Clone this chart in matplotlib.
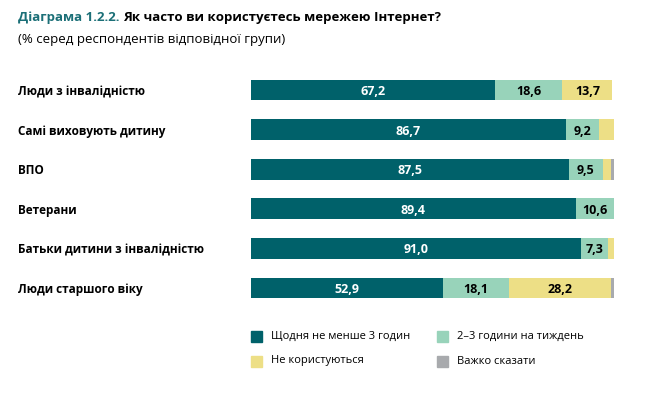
import numpy as np
import matplotlib.pyplot as plt
from matplotlib.patches import Rectangle

plt.rcParams['font.family'] = ['Open Sans', 'DejaVu Sans']

# data
categories = ['Люди з інвалідністю', 'Самі виховують дитину', 'ВПО', 'Ветерани',
              'Батьки дитини з інвалідністю', 'Люди старшого віку']
daily = [67.2, 86.7, 87.5, 89.4, 91.0, 52.9]
weekly = [18.6, 9.2, 9.5, 10.6, 7.3, 18.1]
not_use = [13.7, 4.1, 2.2, 0.0, 1.7, 28.2]
hard_say = [0.0, 0.0, 0.8, 0.0, 0.0, 0.8]
series_names = ['Щодня не менше 3 годин', '2–3 години на тиждень',
                'Не користуються', 'Важко сказати']
colors = ['#00616A', '#98D3BA', '#EDDF86', '#A8AAAD']
text_colors = ['white', 'black', 'black', 'black']

fig = plt.figure(figsize=(6.55, 3.94), dpi=100)
ax = fig.add_axes([251 / 655, 1 - 307.8 / 394, 363 / 655, (307.8 - 70.2) / 394])

y = np.arange(len(categories))
left = np.zeros(len(categories))
for vals, col, tc in zip([daily, weekly, not_use, hard_say], colors, text_colors):
    vals = np.array(vals)
    ax.barh(y, vals, left=left, height=0.53, color=col, edgecolor='none')
    for yi, (l, v) in enumerate(zip(left, vals)):
        if v >= 5:
            ax.text(l + v / 2, yi, f'{v:.1f}'.replace('.', ','), ha='center',
                    va='center_baseline', color=tc, fontsize=9, fontweight='bold')
    left += vals

ax.set_xlim(0, 100)
ax.set_ylim(len(categories) - 0.5, -0.5)
ax.axis('off')

# category labels
for yi, cat in enumerate(categories):
    ax.text(-233 / 363 * 100, yi, cat, ha='left', va='center_baseline',
            fontsize=8.5, fontweight='bold', color='black')

# title
t1 = fig.text(18 / 655, 1 - 18 / 394, 'Діаграма 1.2.2.', color='#1B6F77',
              fontsize=9.5, fontweight='bold', va='center', ha='left')
fig.canvas.draw()
bb = t1.get_window_extent()
fig.text(bb.x1 / 655 + 4 / 655, 1 - 18 / 394, 'Як часто ви користуєтесь мережею Інтернет?',
         color='black', fontsize=9.5, fontweight='bold', va='center', ha='left')
fig.text(18 / 655, 1 - 40 / 394, '(% серед респондентів відповідної групи)',
         color='black', fontsize=9.5, va='center', ha='left')

# legend
leg_pos = [(251, 336), (437, 336), (251, 361), (437, 361)]
for (lx, ly), name, col in zip(leg_pos, series_names, colors):
    fig.add_artist(Rectangle((lx / 655, 1 - (ly + 5.5) / 394), 11 / 655, 11 / 394,
                             transform=fig.transFigure, color=col))
    fig.text((lx + 20) / 655, 1 - ly / 394, name, fontsize=8, va='center', ha='left')

fig.savefig('out.png', dpi=100)
